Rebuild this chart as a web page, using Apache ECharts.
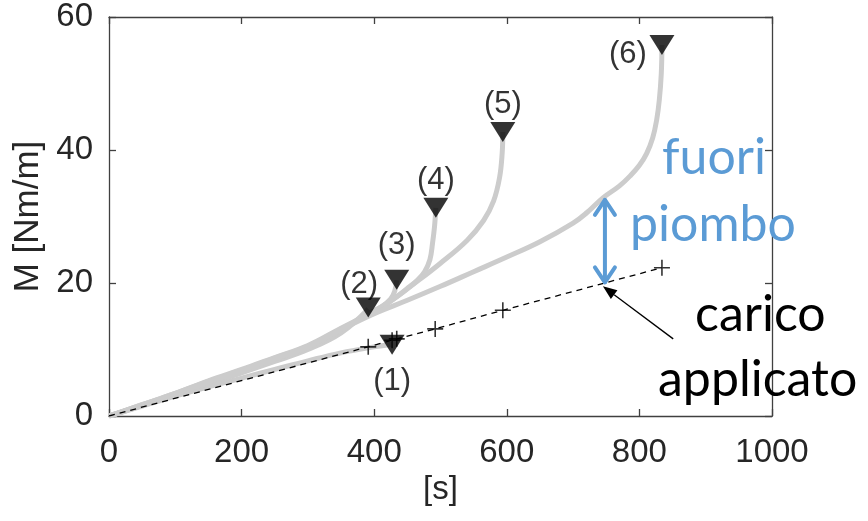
<!DOCTYPE html>
<html>
<head>
<meta charset="utf-8">
<script src="https://cdn.jsdelivr.net/npm/echarts@6/dist/echarts.min.js"></script>
<style>html,body{margin:0;padding:0;background:#fff}#c{width:868px;height:521px}</style>
</head>
<body>
<div id="c"></div>
<script>
// ---- data ----
const xTicks = [0, 200, 400, 600, 800, 1000];
const yTicks = [0, 20, 40, 60];

const curve1 = [[0,0],[50,1.5],[100,3.0],[150,4.4],[200,5.7],[250,7.0],[300,8.3],[350,9.5],[400,10.4],[427,10.8]];
const curve2 = [[0,0],[50,1.6],[100,3.2],[150,4.9],[200,6.5],[250,8.2],[300,10.0],[350,12.5],[391,16.1]];
const curve3 = [[0,0],[50,1.6],[100,3.3],[150,5.0],[200,6.7],[250,8.5],[300,10.3],[350,12.9],[390,15.3],[412,16.5],[425,17.6],[431,18.8],[434,20.4]];
const curve4 = [[0,0],[50,1.7],[100,3.4],[150,5.2],[200,6.9],[250,8.7],[300,10.5],[350,13.1],[400,15.7],[429,17.6],[449,19.1],[465,20.4],[476,21.7],[484,23.5],[488,26.0],[491,28.5],[493,31.3]];
const curve5 = [[0,0],[50,1.7],[100,3.4],[150,5.3],[200,7.0],[250,8.8],[300,10.6],[350,13.2],[400,15.8],[424,17.2],[459,19.8],[499,22.9],[540,26.4],[565,29.4],[580,32.3],[589,35.8],[593,39.5],[594,42.7]];
const curve6 = [[0,0],[50,1.6],[100,3.3],[150,5.1],[200,6.8],[250,8.6],[300,10.4],[350,13.0],[400,15.4],[450,17.4],[500,19.5],[550,21.7],[600,23.9],[650,26.2],[700,29.0],[721,30.6],[745,32.8],[770,34.6],[786,36.1],[800,37.7],[811,39.5],[820,41.8],[826,44.5],[830,47.5],[833,51.5],[834,55.8]];

const failS = [427, 391, 434, 493, 594, 834];
const failM = [10.7, 16.3, 20.5, 31.3, 42.7, 55.8];
const failLabels = ['(1)', '(2)', '(3)', '(4)', '(5)', '(6)'];

const loadS = [0, 391, 427, 434, 492, 594, 834];
const loadM = [0, 10.4, 11.4, 11.6, 13.1, 15.9, 22.3];

const gapArrow = [748, 32.8, 19.8];          // s, top M, bottom M
const pointerArrow = [851, 11.6, 745, 19.5]; // from (s,M) to (s,M)

// ---- styles ----
const axisColor = '#404040';
const textColor = '#262626';
const baseFont = 'Liberation Sans';
const labelOffsets = [[0, 37], [-9, -23], [0, -34], [0, -27], [0, -28], [-34, 10]];

const curves = [curve1, curve2, curve3, curve4, curve5, curve6];

const chart = echarts.init(document.getElementById('c'), null, {renderer: 'canvas'});

const series = curves.map(c => ({
  type: 'line', data: c, showSymbol: false, smooth: 0.4,
  lineStyle: {color: '#cccccc', width: 5}, z: 2, silent: true
}));

series.push({
  type: 'line', data: loadS.map((s, i) => [s, loadM[i]]), showSymbol: false,
  lineStyle: {color: '#000', width: 1.3, type: [6, 5]}, z: 3
});
series.push({
  type: 'scatter', data: loadS.slice(1).map((s, i) => [s, loadM[i + 1]]),
  symbol: 'path://M0,5L10,5M5,0L5,10', symbolSize: 16,
  itemStyle: {color: 'none', borderColor: '#000', borderWidth: 1.6}, z: 4
});
series.push({
  type: 'scatter',
  data: failS.map((s, i) => ({
    value: [s, failM[i]],
    label: {offset: labelOffsets[i]}
  })),
  symbol: 'triangle', symbolRotate: 180, symbolSize: [25, 20],
  itemStyle: {color: '#000'},
  label: {
    show: true, position: 'inside',
    formatter: p => failLabels[p.dataIndex],
    color: '#000', fontFamily: baseFont, fontSize: 31
  }, z: 5
});
series.push({
  type: 'custom', data: [gapArrow], z: 6,
  renderItem: (params, api) => {
    const a = api.coord([api.value(0), api.value(1)]);
    const b = api.coord([api.value(0), api.value(2)]);
    const st = {stroke: '#5B9BD5', lineWidth: 4, fill: null, lineCap: 'round', lineJoin: 'round'};
    return {type: 'group', children: [
      {type: 'line', shape: {x1: a[0], y1: a[1] + 2, x2: b[0], y2: b[1] - 2}, style: st},
      {type: 'polyline', shape: {points: [[a[0] - 10, a[1] + 17], [a[0], a[1] + 2], [a[0] + 10, a[1] + 17]]}, style: st},
      {type: 'polyline', shape: {points: [[b[0] - 10, b[1] - 17], [b[0], b[1] - 2], [b[0] + 10, b[1] - 17]]}, style: st}
    ]};
  }
});
series.push({
  type: 'custom', data: [pointerArrow], z: 6,
  renderItem: (params, api) => {
    const p0 = api.coord([api.value(0), api.value(1)]);
    const p1 = api.coord([api.value(2), api.value(3)]);
    const dx = p1[0] - p0[0], dy = p1[1] - p0[1];
    const L = Math.sqrt(dx * dx + dy * dy), ux = dx / L, uy = dy / L;
    const hl = 14, hw = 5.5;
    const bx = p1[0] - ux * hl, by = p1[1] - uy * hl;
    return {type: 'group', children: [
      {type: 'line', shape: {x1: p0[0], y1: p0[1], x2: bx, y2: by}, style: {stroke: '#000', lineWidth: 1.3}},
      {type: 'polygon', shape: {points: [[p1[0], p1[1]], [bx - uy * hw, by + ux * hw], [bx + uy * hw, by - ux * hw]]}, style: {fill: '#000'}}
    ]};
  }
});

const axisCommon = {
  axisLine: {show: true, onZero: false, lineStyle: {color: axisColor, width: 1.3}},
  axisTick: {show: true, inside: true, length: 7, lineStyle: {color: axisColor, width: 1.3}},
  splitLine: {show: false}
};

chart.setOption({
  animation: false,
  grid: {left: 109, right: 96, top: 17, bottom: 105, containLabel: false},
  xAxis: [
    Object.assign({
      type: 'value', min: xTicks[0], max: xTicks[xTicks.length - 1], interval: 200,
      name: '[s]', nameLocation: 'middle', nameGap: 55,
      nameTextStyle: {color: textColor, fontFamily: baseFont, fontSize: 33},
      axisLabel: {color: textColor, fontFamily: baseFont, fontSize: 33, margin: 20, formatter: v => String(v)}
    }, axisCommon),
    Object.assign({
      type: 'value', position: 'top', min: xTicks[0], max: xTicks[xTicks.length - 1], interval: 200,
      axisLabel: {show: false}
    }, axisCommon)
  ],
  yAxis: [
    Object.assign({
      type: 'value', min: yTicks[0], max: yTicks[yTicks.length - 1], interval: 20,
      name: 'M [Nm/m]', nameLocation: 'middle', nameGap: 60, nameRotate: 90,
      nameTextStyle: {color: textColor, fontFamily: baseFont, fontSize: 35},
      axisLabel: {color: textColor, fontFamily: baseFont, fontSize: 33, margin: 16, formatter: v => String(v)}
    }, axisCommon),
    Object.assign({
      type: 'value', position: 'right', min: yTicks[0], max: yTicks[yTicks.length - 1], interval: 20,
      axisLabel: {show: false}
    }, axisCommon)
  ],
  series: series,
  graphic: [
    {type: 'text', z: 10, style: {text: 'fuori', x: 662, y: 158, fill: '#5B9BD5', font: '50px Lato', verticalAlign: 'middle'}},
    {type: 'text', z: 10, style: {text: 'piombo', x: 630, y: 225, fill: '#5B9BD5', font: '50px Lato', verticalAlign: 'middle'}},
    {type: 'text', z: 10, style: {text: 'carico', x: 695, y: 315, fill: '#000', font: '50px Lato', verticalAlign: 'middle'}},
    {type: 'text', z: 10, style: {text: 'applicato', x: 658, y: 380, fill: '#000', font: '50px Lato', verticalAlign: 'middle'}}
  ]
});
</script>
</body>
</html>
